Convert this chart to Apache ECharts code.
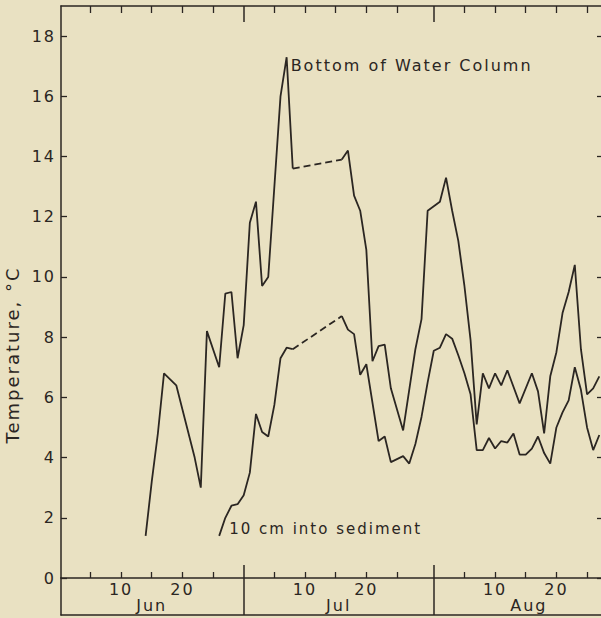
<!DOCTYPE html>
<html>
<head>
<meta charset="utf-8">
<script src="https://cdn.jsdelivr.net/npm/echarts@6.0.0/dist/echarts.min.js"></script>
<style>
html, body { margin: 0; padding: 0; background: #e9e1c2; }
#chart { width: 601px; height: 618px; }
/* the original lettering is widely spaced */
#chart text { letter-spacing: 2px; }
</style>
</head>
<body>
<div id="chart"></div>
<script>
// day numbers count from May 31: Jun 1 = 1, Jul 1 = 31, Aug 1 = 62
var bottomDays = [14, 15, 16, 17, 19, 22, 23, 24, 26, 27, 28, 29, 30, 31, 32, 33, 34, 36, 37, 38,
  46, 47, 48, 49, 50, 51, 52, 53, 54, 56, 58, 59, 60, 62, 63, 64, 65, 66, 67, 68,
  69, 70, 71, 72, 73, 75, 77, 78, 79, 80, 81, 82, 83, 84, 85, 86, 87, 88]
var bottomTemps = [1.4, 3.2, 4.8, 6.8, 6.4, 4.0, 3.0, 8.2, 7.0, 9.45, 9.5, 7.3, 8.4, 11.8, 12.5, 9.7, 10.0, 16.0, 17.3, 13.6,
  13.9, 14.2, 12.7, 12.2, 10.9, 7.2, 7.7, 7.75, 6.3, 4.9, 7.6, 8.6, 12.2, 12.5, 13.3, 12.2, 11.2, 9.7, 7.9, 5.1,
  6.8, 6.3, 6.8, 6.4, 6.9, 5.8, 6.8, 6.2, 4.8, 6.7, 7.5, 8.8, 9.5, 10.4, 7.6, 6.1, 6.3, 6.7]
var sedimentDays = [26, 27, 28, 29, 30, 31, 32, 33, 34, 35, 36, 37, 38,
  46, 47, 48, 49, 50, 52, 53, 54, 56, 57, 58, 59, 60, 61, 62, 63, 64, 65,
  66, 67, 68, 69, 70, 71, 72, 73, 74, 75, 76, 77, 78, 79, 80, 81, 82, 83, 84, 85, 86, 87, 88]
var sedimentTemps = [1.4, 2.0, 2.4, 2.45, 2.75, 3.5, 5.45, 4.85, 4.7, 5.75, 7.3, 7.65, 7.6,
  8.7, 8.25, 8.1, 6.75, 7.1, 4.55, 4.7, 3.85, 4.05, 3.8, 4.45, 5.35, 6.5, 7.55, 7.65, 8.1, 7.95, 7.4,
  6.8, 6.1, 4.25, 4.25, 4.65, 4.3, 4.55, 4.5, 4.8, 4.1, 4.1, 4.3, 4.7, 4.15, 3.8, 5.0, 5.5, 5.9, 7.0, 6.25, 5.0, 4.25, 4.75]
var gapDays = [38, 46] // no readings between these, joined with a dashed line

var monthNames = ['Jun', 'Jul', 'Aug']
var monthStarts = [0, 30, 61]
var monthLengths = [30, 31, 31]
var dayTicks = [5, 10, 15, 20, 25]
var dayLabels = [10, 20]
var tempTicks = [0, 2, 4, 6, 8, 10, 12, 14, 16, 18]

var ink = '#2b2622'
var font = 'DejaVu Sans'

function monthOf(v) {
  var m = 0
  for (var i = 0; i < monthStarts.length; i++) {
    if (v > monthStarts[i]) m = i
  }
  return m
}

var tickDays = []
var labelDays = []
var monthMids = []
monthStarts.forEach(function(s, i) {
  dayTicks.forEach(function(d) { tickDays.push(s + d) })
  dayLabels.forEach(function(d) { labelDays.push(s + d) })
  monthMids.push(s + monthLengths[i] / 2)
})
var boundaries = monthStarts.slice(1)

function solidData(days, temps, labelIndex, label) {
  var out = []
  days.forEach(function(d, i) {
    var item = { value: [d, temps[i]] }
    if (i === labelIndex) item.label = label
    out.push(item)
    if (d === gapDays[0]) out.push({ value: ['-', '-'] })
  })
  return out
}

function gapData(days, temps) {
  return gapDays.map(function(g) {
    var i = days.indexOf(g)
    return [days[i], temps[i]]
  })
}

var peakIndex = bottomTemps.indexOf(Math.max.apply(null, bottomTemps))

var lineStyle = { color: ink, width: 1.8 }
var dashStyle = { color: ink, width: 1.8, type: [7, 4] }

var chart = echarts.init(document.getElementById('chart'), null, { renderer: 'svg' })

chart.setOption({
  backgroundColor: '#e9e1c2',
  animation: false,
  grid: [
    { left: 61, right: -2, top: 6, bottom: 40, outerBoundsMode: 'none' },
    { left: 61, right: -2, top: 578, height: 37, outerBoundsMode: 'none' }
  ],
  xAxis: [
    {
      type: 'value', gridIndex: 0, position: 'bottom', min: 0.2, max: 88.6,
      axisLine: { show: true, lineStyle: { color: ink, width: 1.5 } },
      axisTick: { show: true, inside: true, length: 6, customValues: tickDays, lineStyle: { color: ink, width: 1.3 } },
      axisLabel: {
        customValues: labelDays, margin: 3, fontSize: 16, color: ink, fontFamily: font,
        formatter: function(v) { return String(v - monthStarts[monthOf(v)]) }
      },
      splitLine: { show: false }
    },
    {
      type: 'value', gridIndex: 0, position: 'bottom', min: 0.2, max: 88.6,
      axisLine: { show: false },
      axisTick: { show: true, inside: true, length: 13, customValues: boundaries, lineStyle: { color: ink, width: 1.5 } },
      axisLabel: {
        customValues: monthMids, margin: 19, fontSize: 16, color: ink, fontFamily: font,
        formatter: function(v) { return monthNames[monthOf(v)] }
      },
      splitLine: { show: false }
    },
    {
      type: 'value', gridIndex: 0, position: 'top', min: 0.2, max: 88.6,
      axisLine: { show: true, lineStyle: { color: ink, width: 1.5 } },
      axisTick: { show: true, inside: true, length: 7, customValues: tickDays, lineStyle: { color: ink, width: 1.3 } },
      axisLabel: { show: false },
      splitLine: { show: false }
    },
    {
      type: 'value', gridIndex: 0, position: 'top', min: 0.2, max: 88.6,
      axisLine: { show: false },
      axisTick: { show: true, inside: true, length: 16, customValues: boundaries, lineStyle: { color: ink, width: 1.5 } },
      axisLabel: { show: false },
      splitLine: { show: false }
    },
    {
      type: 'value', gridIndex: 1, position: 'bottom', min: 0.2, max: 88.6,
      axisLine: { show: true, lineStyle: { color: ink, width: 1.5 } },
      axisTick: { show: true, inside: true, length: 37, customValues: boundaries, lineStyle: { color: ink, width: 1.5 } },
      axisLabel: { show: false },
      splitLine: { show: false }
    }
  ],
  yAxis: [
    {
      type: 'value', gridIndex: 0, position: 'left', min: 0, max: 19,
      name: 'Temperature, °C', nameLocation: 'middle', nameGap: 40,
      nameTextStyle: { color: ink, fontSize: 18, fontFamily: font, padding: [0, 126, 0, 0] },
      axisLine: { show: true, lineStyle: { color: ink, width: 1.5 } },
      axisTick: { show: true, inside: true, length: 6, customValues: tempTicks, lineStyle: { color: ink, width: 1.3 } },
      axisLabel: { customValues: tempTicks, margin: 5, fontSize: 16, color: ink, fontFamily: font },
      splitLine: { show: false }
    },
    {
      type: 'value', gridIndex: 0, position: 'right', min: 0, max: 19,
      axisLine: { show: true, lineStyle: { color: ink, width: 1.5 } },
      axisTick: { show: true, inside: true, length: 6, customValues: tempTicks, lineStyle: { color: ink, width: 1.3 } },
      axisLabel: { show: false },
      splitLine: { show: false }
    },
    {
      type: 'value', gridIndex: 1, position: 'left', min: 0, max: 1,
      axisLine: { show: true, lineStyle: { color: ink, width: 1.5 } },
      axisTick: { show: false },
      axisLabel: { show: false },
      splitLine: { show: false }
    }
  ],
  series: [
    {
      name: 'Bottom of Water Column',
      type: 'line', xAxisIndex: 0, yAxisIndex: 0,
      symbol: 'circle', symbolSize: 0, showSymbol: true,
      lineStyle: lineStyle, itemStyle: { color: ink },
      data: solidData(bottomDays, bottomTemps, peakIndex, {
        show: true, position: 'right', distance: 4, offset: [0, 8],
        formatter: 'Bottom of Water Column', color: ink, fontSize: 16, fontFamily: font
      })
    },
    {
      type: 'line', xAxisIndex: 0, yAxisIndex: 0, showSymbol: false,
      lineStyle: dashStyle,
      data: gapData(bottomDays, bottomTemps)
    },
    {
      name: '10 cm into sediment',
      type: 'line', xAxisIndex: 0, yAxisIndex: 0,
      symbol: 'circle', symbolSize: 0, showSymbol: true,
      lineStyle: lineStyle, itemStyle: { color: ink },
      data: solidData(sedimentDays, sedimentTemps, 0, {
        show: true, position: 'right', distance: 10, offset: [0, -7],
        formatter: '10 cm into sediment', color: ink, fontSize: 15, fontFamily: font
      })
    },
    {
      type: 'line', xAxisIndex: 0, yAxisIndex: 0, showSymbol: false,
      lineStyle: dashStyle,
      data: gapData(sedimentDays, sedimentTemps)
    }
  ]
})
</script>
</body>
</html>
